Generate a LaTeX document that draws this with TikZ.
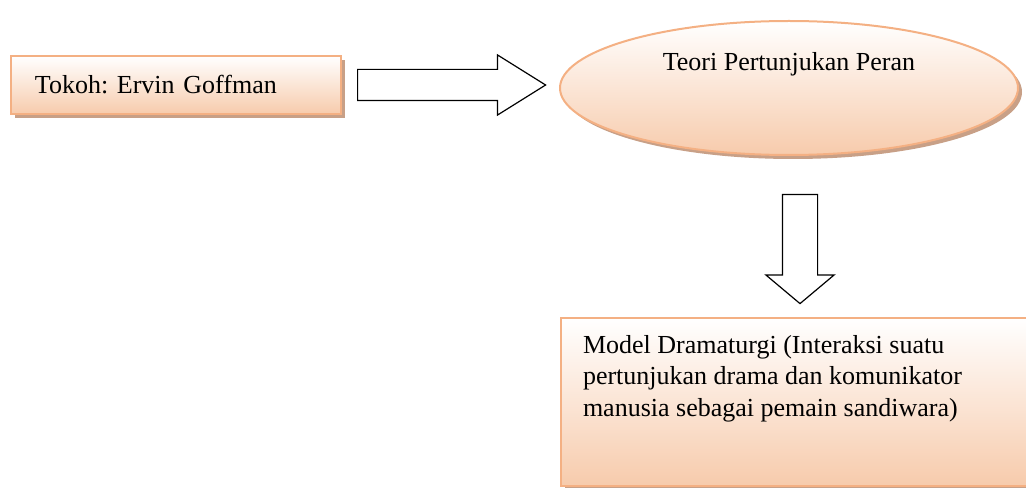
\documentclass[tikz,border=0pt]{standalone}
\usepackage{fontspec}
\setmainfont{Liberation Serif}
\usetikzlibrary{shapes.geometric,shapes.arrows,shadows,calc}
\definecolor{kulit}{RGB}{247,203,172}
\definecolor{garis}{RGB}{244,176,131}
\definecolor{bayang}{RGB}{200,160,135}
\tikzset{
  kotak/.style={draw=garis, line width=2bp, top color=white, bottom color=kulit,
    drop shadow={shadow xshift=4bp, shadow yshift=-4bp, fill=bayang, opacity=1}},
  panah/.style={single arrow, draw=black, fill=white, line width=1.2bp,
    inner xsep=0pt, single arrow head indent=0pt, anchor=tail}
}
\frenchspacing
\begin{document}
\begin{tikzpicture}[x=1bp, y=-1bp, font=\fontsize{26bp}{31.5bp}\selectfont]
    \useasboundingbox (0,0) rectangle (1026,488);
    % Kotak tokoh
    \node[kotak, text width=282bp, inner xsep=24bp, inner ysep=0pt,
          minimum height=58bp, align=left] (tokoh) at (176,85) {Tokoh: Ervin Goffman};
    % Elips teori
    \node[kotak, ellipse, minimum width=458bp, minimum height=134bp, inner sep=0pt,
          label={[yshift=24bp]center:Teori Pertunjukan Peran}] (teori) at (789,88) {};
    % Kotak model
    \node[kotak, anchor=north west, inner xsep=22bp, inner ysep=17bp] (model) at (560,317)
          {\parbox[t][134bp][t]{600bp}{\raggedright Model Dramaturgi (Interaksi suatu\\
           pertunjukan drama dan komunikator\\ manusia sebagai pemain sandiwara)}};
    % Panah
    \node[panah, inner ysep=15bp, minimum height=188bp, single arrow head extend=14.5bp,
          single arrow tip angle=64] (kekanan) at ([xshift=15bp]tokoh.east) {};
    \node[panah, rotate=-90, inner ysep=17bp, minimum height=109bp,
          single arrow head extend=16.5bp, single arrow tip angle=100]
          (kebawah) at ([xshift=11bp, yshift=-38bp]teori.south) {};
\end{tikzpicture}
\end{document}
